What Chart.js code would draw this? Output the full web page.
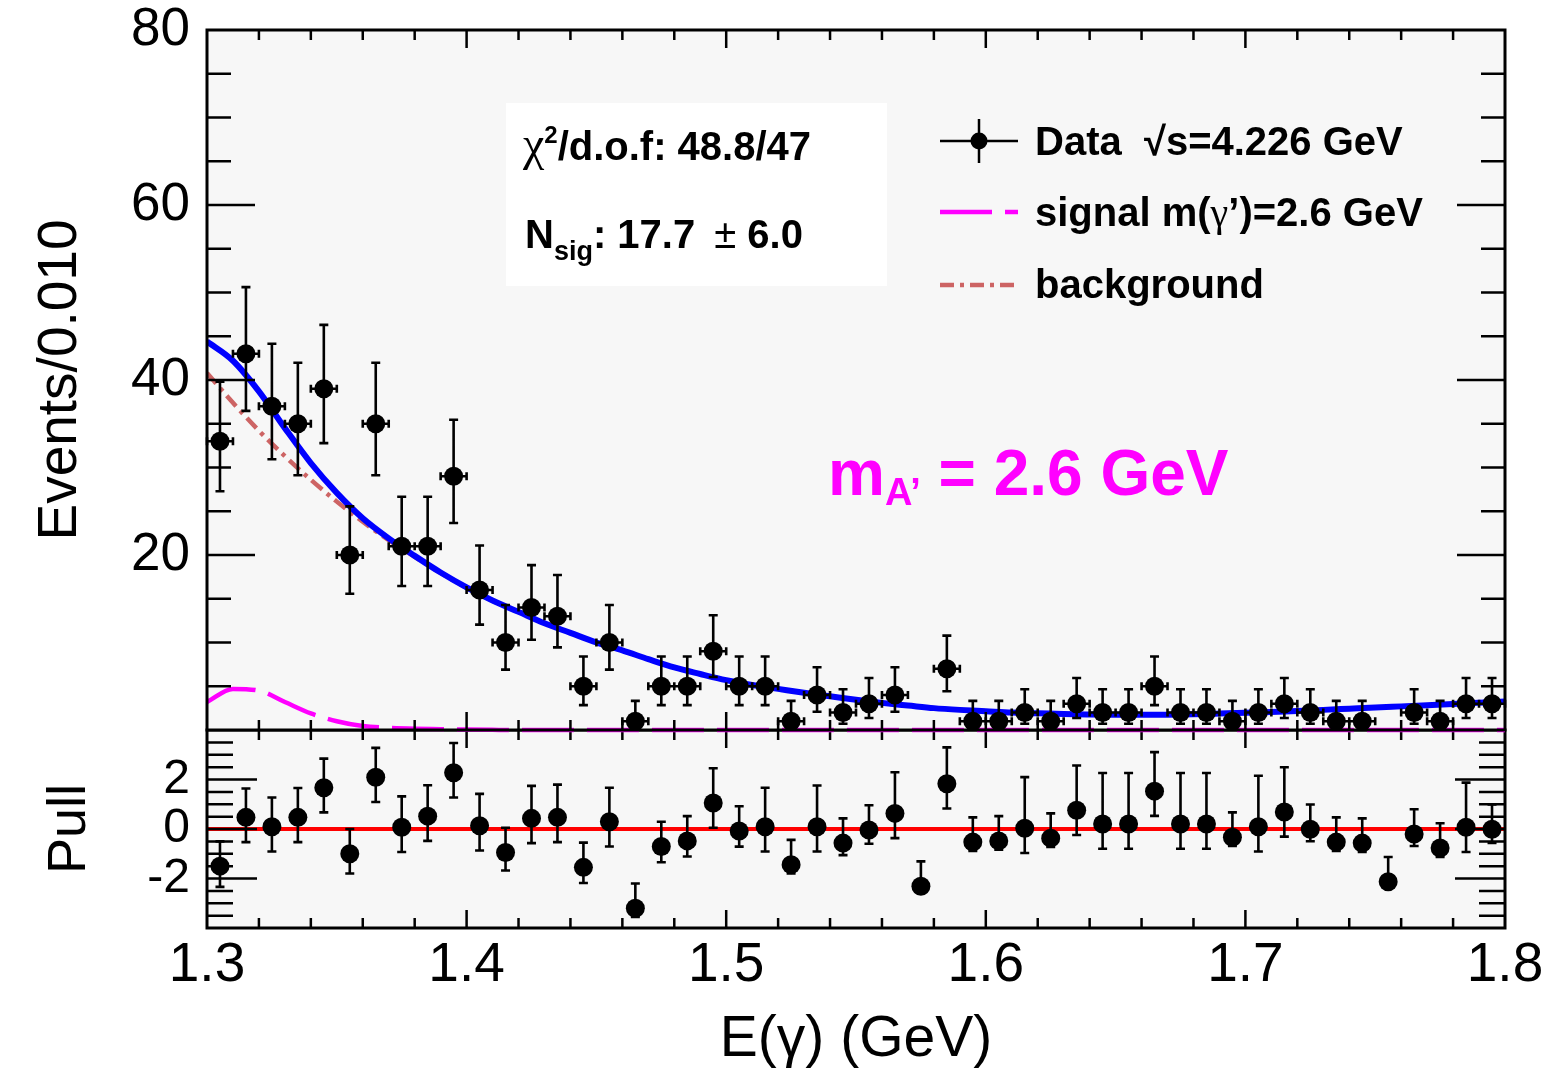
<!DOCTYPE html>
<html>
<head>
<meta charset="utf-8">
<script src="https://cdn.jsdelivr.net/npm/chart.js@4/dist/chart.umd.min.js"></script>
<style>
html,body{margin:0;padding:0;background:#ffffff;}
#wrap{position:relative;width:1549px;height:1081px;overflow:hidden;}
#wrap canvas{position:absolute;left:0;top:0;}
</style>
</head>
<body>
<div id="wrap">
<canvas id="pull" width="1549" height="1081"></canvas>
<canvas id="main" width="1549" height="1081"></canvas>
</div>
<script>
// ---------------- data ----------------
const binCenters = [1.305,1.315,1.325,1.335,1.345,1.355,1.365,1.375,1.385,1.395,
                    1.405,1.415,1.425,1.435,1.445,1.455,1.465,1.475,1.485,1.495,
                    1.505,1.515,1.525,1.535,1.545,1.555,1.565,1.575,1.585,1.595,
                    1.605,1.615,1.625,1.635,1.645,1.655,1.665,1.675,1.685,1.695,
                    1.705,1.715,1.725,1.735,1.745,1.755,1.765,1.775,1.785,1.795];
const counts = [33,43,37,35,39,20,35,21,21,29,
                16,10,14,13,5,10,1,5,5,9,
                5,5,1,4,2,3,4,0,7,1,
                1,2,1,3,2,2,5,2,2,1,
                2,3,2,1,1,0,2,1,3,3];
const pulls = [-1.5,0.47,0.09,0.47,1.67,-1.0,2.09,0.07,0.52,2.27,
               0.13,-0.95,0.43,0.47,-1.55,0.29,-3.2,-0.71,-0.48,1.05,
               -0.08,0.09,-1.44,0.09,-0.57,-0.04,0.63,-2.31,1.83,-0.53,
               -0.48,0.03,-0.37,0.76,0.2,0.2,1.53,0.2,0.2,-0.33,
               0.09,0.69,-0.01,-0.53,-0.57,-2.13,-0.2,-0.77,0.07,-0.01];
const curveX = [1.30,1.31,1.32,1.33,1.34,1.35,1.36,1.37,1.38,1.39,
                1.40,1.41,1.42,1.43,1.44,1.45,1.46,1.47,1.48,1.49,
                1.50,1.51,1.52,1.53,1.54,1.55,1.56,1.57,1.58,1.59,
                1.60,1.61,1.62,1.63,1.64,1.65,1.66,1.67,1.68,1.69,
                1.70,1.71,1.72,1.73,1.74,1.75,1.76,1.77,1.78,1.79,1.80];
const totalFit = [44.4,42.2,38.7,34.5,30.5,27.1,24.2,21.9,19.9,18.0,
                  16.3,14.8,13.5,12.2,11.1,10.0,9.1,8.1,7.15,6.4,
                  5.7,5.15,4.7,4.25,3.85,3.45,3.1,2.8,2.5,2.3,
                  2.15,2.0,1.92,1.82,1.77,1.74,1.73,1.75,1.8,1.88,
                  1.97,2.07,2.18,2.3,2.43,2.56,2.7,2.84,2.98,3.12,3.26];
const bkgFit = [40.8,37.4,34.2,31.3,28.6,26.1,23.8,21.7,19.8,17.95,
                16.25,14.78,13.5,12.2,11.1,10.0,9.1,8.1,7.15,6.4,
                5.7,5.15,4.7,4.25,3.85,3.45,3.1,2.8,2.5,2.3,
                2.15,2.0,1.92,1.82,1.77,1.74,1.73,1.75,1.8,1.88,
                1.97,2.07,2.18,2.3,2.43,2.56,2.7,2.84,2.98,3.12,3.26];
const sigFit = [3.2,4.7,4.5,3.2,1.9,1.0,0.45,0.25,0.15,0.1,
                0.05,0.02,0,0,0,0,0,0,0,0,
                0,0,0,0,0,0,0,0,0,0,
                0,0,0,0,0,0,0,0,0,0,
                0,0,0,0,0,0,0,0,0,0,0];
const xTickValues = [1.3,1.4,1.5,1.6,1.7,1.8];
const yTickValues = [20,40,60,80];
const pullTickValues = [-2,0,2];
const pullRefX = [1.3,1.8];
const pullRefY = [0,0];
const binHalfWidth = 0.005;

// ---------------- helpers ----------------
const SANS = "'Liberation Sans', Arial, Helvetica, sans-serif";
const SERIF = "'Liberation Serif', 'DejaVu Serif', serif";

// Poisson (Garwood / Gehrels) 68% interval half-widths for a count n
function poissonErr(n){
  if(n===0) return {lo:0, hi:1.148};
  const hi = Math.sqrt(n+0.75)+1;
  const lo = n - n*Math.pow(1-1/(9*n)-1/(3*Math.sqrt(n)),3);
  return {lo, hi};
}

const dataPts = [], dataErr = [];
binCenters.forEach((x,i)=>{
  if(counts[i]>0){ dataPts.push({x, y:counts[i]}); const e=poissonErr(counts[i]); dataErr.push({lo:e.lo, hi:e.hi, xw:binHalfWidth}); }
});
const pullPts = binCenters.map((x,i)=>({x, y:pulls[i]}));
const pullErr = binCenters.map((x,i)=>{
  const e = poissonErr(counts[i]);
  if(pulls[i]>=0) return {lo:1, hi: e.lo>0 ? e.hi/e.lo : 1};
  return {lo: e.lo/e.hi, hi:1};
});
const curve = arr => curveX.map((x,i)=>({x, y:arr[i]}));
const pullRef = pullRefX.map((x,i)=>({x, y:pullRefY[i]}));

// ---------------- plugins ----------------
const bgPlugin = {
  id:'plotbg',
  beforeDraw(chart){
    const {ctx, chartArea:a} = chart;
    ctx.save(); ctx.fillStyle='#f7f7f7';
    ctx.fillRect(a.left, a.top, a.right-a.left, a.bottom-a.top);
    ctx.restore();
  }
};

const errPlugin = {
  id:'errbars',
  beforeDatasetDraw(chart, args){
    const ds = chart.data.datasets[args.index];
    if(!ds.errors) return;
    const xs = chart.scales.x, ys = chart.scales.y, ctx = chart.ctx;
    ctx.save(); ctx.strokeStyle='#000'; ctx.lineWidth=2.6; ctx.beginPath();
    ds.data.forEach((p,j)=>{
      const e = ds.errors[j];
      const px = xs.getPixelForValue(p.x), py = ys.getPixelForValue(p.y);
      const t = ys.getPixelForValue(p.y+e.hi), b = ys.getPixelForValue(p.y-e.lo);
      ctx.moveTo(px,t); ctx.lineTo(px,b);
      ctx.moveTo(px-4.5,t); ctx.lineTo(px+4.5,t);
      ctx.moveTo(px-4.5,b); ctx.lineTo(px+4.5,b);
      if(e.xw){
        const l = xs.getPixelForValue(p.x-e.xw), r = xs.getPixelForValue(p.x+e.xw);
        ctx.moveTo(l,py); ctx.lineTo(r,py);
        ctx.moveTo(l,py-4); ctx.lineTo(l,py+4);
        ctx.moveTo(r,py-4); ctx.lineTo(r,py+4);
      }
    });
    ctx.stroke(); ctx.restore();
  }
};

function framePlugin(cfg){
  return {
    id:'frame'+cfg.name,
    afterDraw(chart){
      const {ctx, chartArea:a} = chart;
      const xs = chart.scales.x, ys = chart.scales.y;
      ctx.save(); ctx.strokeStyle='#000'; ctx.lineWidth=2.5; ctx.beginPath();
      for(let k=1;k<25;k++){
        const px = xs.getPixelForValue(1.3+0.02*k);
        const L = (k%5===0) ? cfg.xMaj : cfg.xMin;
        ctx.moveTo(px,a.bottom); ctx.lineTo(px,a.bottom-L);
        ctx.moveTo(px,a.top); ctx.lineTo(px,a.top+L);
      }
      const nSteps = Math.round((cfg.yHi-cfg.yLo)/cfg.yStep);
      for(let k=1;k<nSteps;k++){
        const v = cfg.yLo + k*cfg.yStep;
        const r = v/cfg.yMajStep;
        const maj = Math.abs(r-Math.round(r))<1e-6;
        const L = maj ? cfg.yMaj : cfg.yMin;
        const py = ys.getPixelForValue(v);
        ctx.moveTo(a.left,py); ctx.lineTo(a.left+L,py);
        ctx.moveTo(a.right,py); ctx.lineTo(a.right-L,py);
      }
      ctx.stroke();
      ctx.lineWidth=3;
      ctx.strokeRect(a.left,a.top,a.right-a.left,a.bottom-a.top);
      ctx.restore();
    }
  };
}

function drawParts(ctx, x, y, parts){
  let cx = x;
  for(const p of parts){
    ctx.font = p.font; ctx.fillStyle = p.color || '#000';
    ctx.fillText(p.t, cx, y + (p.dy||0));
    cx += ctx.measureText(p.t).width + (p.dx||0);
  }
}

const annotPlugin = {
  id:'annot',
  afterDraw(chart){
    const ctx = chart.ctx;
    ctx.save();
    ctx.textAlign='left'; ctx.textBaseline='alphabetic';
    // fit info box
    ctx.fillStyle='#ffffff';
    ctx.fillRect(506,103,381,183);
    const B40 = `bold 40px ${SANS}`;
    drawParts(ctx,523,160,[
      {t:'χ', font:`48px ${SERIF}`},
      {t:'2', font:`bold 24px ${SANS}`, dy:-17},
      {t:'/d.o.f: 48.8/47', font:B40}
    ]);
    drawParts(ctx,525,248,[
      {t:'N', font:B40},
      {t:'sig', font:`bold 27px ${SANS}`, dy:12},
      {t:': 17.7 ', font:B40, dx:8},
      {t:'±', font:`40px ${SANS}`},
      {t:' 6.0', font:B40}
    ]);
    // legend
    ctx.strokeStyle='#000'; ctx.lineWidth=2.5; ctx.setLineDash([]);
    ctx.beginPath();
    ctx.moveTo(940,141); ctx.lineTo(1018,141);
    ctx.moveTo(979,119); ctx.lineTo(979,163);
    ctx.stroke();
    ctx.fillStyle='#000'; ctx.beginPath(); ctx.arc(979,141,8.5,0,Math.PI*2); ctx.fill();
    drawParts(ctx,1035,155,[{t:'Data  √s=4.226 GeV', font:B40}]);

    ctx.strokeStyle='#ff00ff'; ctx.lineWidth=4.5; ctx.setLineDash([52,13]);
    ctx.beginPath(); ctx.moveTo(940,212); ctx.lineTo(1018,212); ctx.stroke();
    drawParts(ctx,1035,226,[
      {t:'signal m(', font:B40},
      {t:'γ', font:`40px ${SERIF}`},
      {t:'’)=2.6 GeV', font:B40}
    ]);

    ctx.strokeStyle='#cd6464'; ctx.lineWidth=4.5; ctx.setLineDash([14,6,4,6]);
    ctx.beginPath(); ctx.moveTo(940,285); ctx.lineTo(1018,285); ctx.stroke();
    ctx.setLineDash([]);
    drawParts(ctx,1035,298,[{t:'background', font:B40}]);

    // mass label
    drawParts(ctx,828,495,[
      {t:'m', font:`bold 64px ${SANS}`, color:'#ff00ff'},
      {t:'A’', font:`bold 38px ${SANS}`, dy:10, color:'#ff00ff'},
      {t:' = 2.6 GeV', font:`bold 64px ${SANS}`, color:'#ff00ff'}
    ]);
    ctx.restore();
  }
};

Chart.defaults.font.family = SANS;
Chart.defaults.color = '#000';

// ---------------- main (fit) panel ----------------
new Chart(document.getElementById('main'), {
  type:'scatter',
  data:{datasets:[
    {label:'Data', data:dataPts, errors:dataErr, pointRadius:9.5, pointBackgroundColor:'#000', pointBorderWidth:0, order:0},
    {label:'total', data:curve(totalFit), showLine:true, borderColor:'#0000ff', borderWidth:6, pointRadius:0, cubicInterpolationMode:'monotone', order:1},
    {label:'signal', data:curve(sigFit), showLine:true, borderColor:'#ff00ff', borderWidth:4.5, borderDash:[52,13], pointRadius:0, cubicInterpolationMode:'monotone', clip:false, order:2},
    {label:'background', data:curve(bkgFit), showLine:true, borderColor:'#cd6464', borderWidth:4.5, borderDash:[14,6,4,6], pointRadius:0, cubicInterpolationMode:'monotone', order:3}
  ]},
  options:{
    responsive:false, animation:false, events:[],
    layout:{autoPadding:false, padding:{left:0, top:30, right:44, bottom:351}},
    plugins:{legend:{display:false}, tooltip:{enabled:false}},
    scales:{
      x:{type:'linear', min:1.3, max:1.8, display:false},
      y:{type:'linear', min:0, max:80,
         grid:{display:false, drawTicks:false}, border:{display:false},
         afterBuildTicks:s=>{ s.ticks = yTickValues.map(v=>({value:v})); },
         afterFit:s=>{ s.width=207; s.paddingTop=0; s.paddingBottom=0; },
         ticks:{padding:17, color:'#000', font:{family:SANS, size:53}, callback:v=>String(v)},
         title:{display:true, text:'Events/0.010', color:'#000', font:{family:SANS, size:55}, padding:{top:28, bottom:0}}
      }
    }
  },
  plugins:[bgPlugin, errPlugin,
    framePlugin({name:'main', xMaj:18, xMin:10, yLo:0, yHi:80, yStep:5, yMajStep:20, yMaj:48, yMin:24}),
    annotPlugin]
});

// ---------------- pull panel ----------------
new Chart(document.getElementById('pull'), {
  type:'scatter',
  data:{datasets:[
    {label:'Pull', data:pullPts, errors:pullErr, pointRadius:9.5, pointBackgroundColor:'#000', pointBorderWidth:0, order:0},
    {label:'zero', data:pullRef, showLine:true, borderColor:'#ff0000', borderWidth:4, pointRadius:0, order:1}
  ]},
  options:{
    responsive:false, animation:false, events:[],
    layout:{autoPadding:false, padding:{left:0, top:730, right:44, bottom:0}},
    plugins:{legend:{display:false}, tooltip:{enabled:false}},
    scales:{
      x:{type:'linear', min:1.3, max:1.8,
         grid:{display:false, drawTicks:false}, border:{display:false},
         afterBuildTicks:s=>{ s.ticks = xTickValues.map(v=>({value:v})); },
         afterFit:s=>{ s.height=153; s.paddingLeft=0; s.paddingRight=0; },
         ticks:{padding:5, color:'#000', maxRotation:0, autoSkip:false, font:{family:SANS, size:55}, callback:v=>Number(v).toFixed(1)},
         title:{display:true, text:'E(γ) (GeV)', color:'#000', font:{family:SANS, size:57}, padding:{top:0, bottom:7}}
      },
      y:{type:'linear', min:-4, max:4,
         grid:{display:false, drawTicks:false}, border:{display:false},
         afterBuildTicks:s=>{ s.ticks = pullTickValues.map(v=>({value:v})); },
         afterFit:s=>{ s.width=207; s.paddingTop=0; s.paddingBottom=0; },
         ticks:{padding:17, color:'#000', font:{family:SANS, size:48}, callback:v=>String(v)},
         title:{display:true, text:'Pull', color:'#000', font:{family:SANS, size:54}, padding:{top:38, bottom:0}}
      }
    }
  },
  plugins:[bgPlugin, errPlugin,
    framePlugin({name:'pull', xMaj:18, xMin:10, yLo:-4, yHi:4, yStep:0.5, yMajStep:2, yMaj:50, yMin:26})]
});
</script>
</body>
</html>
